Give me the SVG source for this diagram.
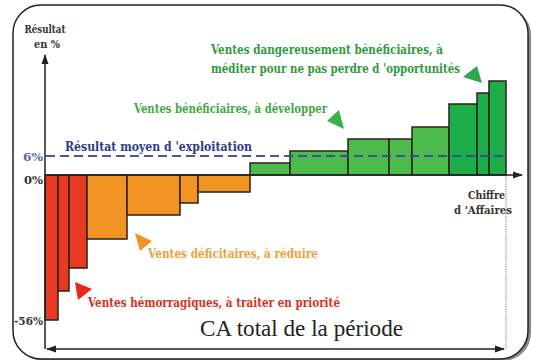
<svg xmlns="http://www.w3.org/2000/svg" width="533" height="360" viewBox="0 0 533 360">
<style>
text{font-family:"DejaVu Serif","Liberation Serif",serif;font-weight:bold}
.bar{stroke:#2b2118;stroke-width:1.5}
.red{fill:#e83a22}
.org{fill:#f29424}
.lg{fill:#4cbb4c}
.dg{fill:#1dae49}
.ax{stroke:#222;stroke-width:1.5;fill:none}
</style>
<defs>
<marker id="ah" viewBox="0 0 10 10" refX="9" refY="5" markerWidth="7" markerHeight="7" orient="auto-start-reverse">
<path d="M0,1.5 L10,5 L0,8.5 z" fill="#222"/>
</marker>
</defs>
<rect x="0" y="0" width="533" height="360" fill="#fff"/>
<rect x="16" y="7" width="515" height="354" rx="28" fill="#8a8a8a"/>
<rect x="13" y="5" width="515" height="354" rx="28" fill="#fff" stroke="#222" stroke-width="1.5"/>
<g id="bars">
<g id="bar-r1"><rect class="bar red" x="45" y="175" width="13" height="145"/></g>
<g id="bar-r2"><rect class="bar red" x="58" y="175" width="11" height="116"/></g>
<g id="bar-r3"><rect class="bar red" x="69" y="175" width="18" height="93"/></g>
<g id="bar-o1"><rect class="bar org" x="87" y="175" width="40" height="64"/></g>
<g id="bar-o2"><rect class="bar org" x="127" y="175" width="53" height="40"/></g>
<g id="bar-o3"><rect class="bar org" x="180" y="175" width="18" height="28"/></g>
<g id="bar-o4"><rect class="bar org" x="198" y="175" width="52" height="17"/></g>
<g id="bar-g1"><rect class="bar lg" x="250" y="163" width="40" height="12"/></g>
<g id="bar-g2"><rect class="bar lg" x="290" y="151" width="58" height="24"/></g>
<g id="bar-g3"><rect class="bar lg" x="348" y="139" width="41" height="36"/></g>
<g id="bar-g4"><rect class="bar lg" x="389" y="139" width="23" height="36"/></g>
<g id="bar-g5"><rect class="bar lg" x="412" y="127" width="37" height="48"/></g>
<g id="bar-g6"><rect class="bar dg" x="449" y="104" width="28" height="71"/></g>
<g id="bar-g7"><rect class="bar dg" x="477" y="93" width="12" height="82"/></g>
<g id="bar-g8"><rect class="bar dg" x="489" y="81" width="17" height="94"/></g>
</g>
<g id="connectors">
<line x1="46" y1="156" x2="505" y2="156" stroke="#34489a" stroke-width="2" stroke-dasharray="9,5" opacity="0.9"/>
<line x1="45" y1="349" x2="45" y2="55" class="ax" marker-end="url(#ah)"/>
<line x1="45" y1="175" x2="522" y2="175" class="ax" marker-end="url(#ah)"/>
<line x1="47" y1="349" x2="504" y2="349" class="ax" marker-start="url(#ah)" marker-end="url(#ah)"/>
<line x1="506" y1="176" x2="506" y2="349" stroke="#888" stroke-width="1" stroke-dasharray="1.5,1"/>
</g>
<g id="pointers">
<polygon points="135,233 152,241 140,251" fill="#f29424"/>
<polygon points="75,282 92,289 78,300" fill="#e8261c"/>
<polygon points="327,121 339,110 344,129" fill="#3cb04a"/>
<polygon points="463,77 477,66 482,83" fill="#2aa84a"/>
</g>
<g id="labels">
<text x="45" y="33" font-size="10.5" fill="#333" text-anchor="middle" textLength="41" lengthAdjust="spacingAndGlyphs">Résultat</text>
<text x="47" y="48" font-size="10.5" fill="#333" text-anchor="middle" textLength="26" lengthAdjust="spacingAndGlyphs">en %</text>
<text x="43" y="161" font-size="11.5" fill="#5a68aa" text-anchor="end" textLength="20" lengthAdjust="spacingAndGlyphs">6%</text>
<text x="43" y="184" font-size="11.5" fill="#333" text-anchor="end" textLength="19" lengthAdjust="spacingAndGlyphs">0%</text>
<text x="43" y="325" font-size="11.5" fill="#333" text-anchor="end" textLength="29" lengthAdjust="spacingAndGlyphs">-56%</text>
<text x="65" y="151" font-size="12.5" fill="#2e3a8a" textLength="187" lengthAdjust="spacingAndGlyphs">Résultat moyen d 'exploitation</text>
<text x="134" y="113" font-size="12" fill="#3fa846" textLength="193" lengthAdjust="spacingAndGlyphs">Ventes bénéficiaires, à développer</text>
<text x="211" y="54" font-size="12.5" fill="#2f9a3e" textLength="232" lengthAdjust="spacingAndGlyphs">Ventes dangereusement bénéficiaires, à</text>
<text x="211" y="73" font-size="12.5" fill="#2f9a3e" textLength="249" lengthAdjust="spacingAndGlyphs">méditer pour ne pas perdre d 'opportunités</text>
<text x="148" y="258" font-size="12" fill="#f0a03c" textLength="170" lengthAdjust="spacingAndGlyphs">Ventes déficitaires, à réduire</text>
<text x="88" y="307" font-size="12" fill="#d8321e" textLength="252" lengthAdjust="spacingAndGlyphs">Ventes hémorragiques, à traiter en priorité</text>
<text x="505" y="199" font-size="10.5" fill="#333" text-anchor="end" textLength="37" lengthAdjust="spacingAndGlyphs">Chiffre</text>
<text x="512" y="214" font-size="10.5" fill="#333" text-anchor="end" textLength="58" lengthAdjust="spacingAndGlyphs">d 'Affaires</text>
<text x="200" y="336" font-size="23" fill="#222" style="font-family:'Liberation Serif',serif;font-weight:normal" textLength="203" lengthAdjust="spacingAndGlyphs">CA total de la période</text>
</g>
</svg>
